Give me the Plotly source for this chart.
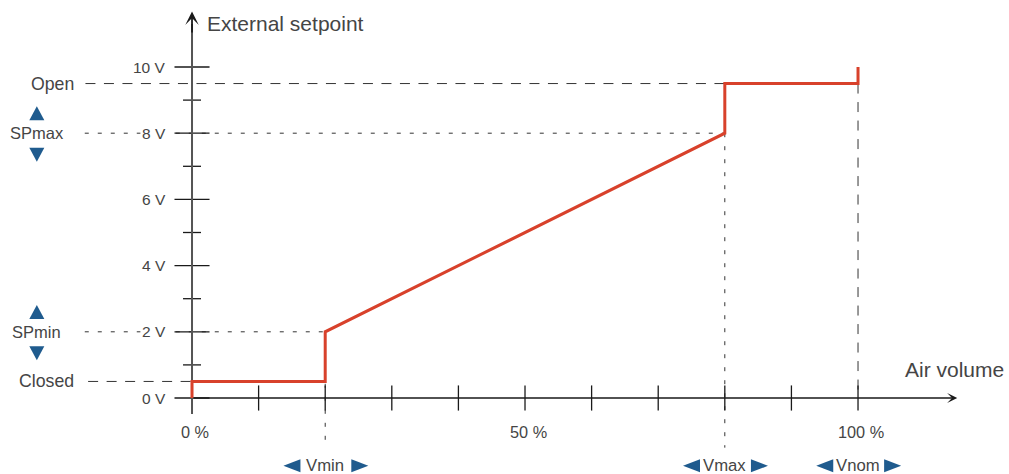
import plotly.graph_objects as go

# ---- data ----
curve_x = [0, 0, 20, 20, 80, 80, 100, 100]          # air volume, %
curve_y = [0, 0.5, 0.5, 2, 8, 9.5, 9.5, 10]         # external setpoint, V
y_major = [0, 2, 4, 6, 8, 10]
y_major_labels = ["0 V", "2 V", "4 V", "6 V", "8 V", "10 V"]
y_minor = [1, 3, 5, 7, 9]
x_ticks = [10, 20, 30, 40, 50, 60, 70, 80, 90, 100]
x_tick_labels = {0: "0 %", 50: "50 %", 100: "100 %"}
closed_v, spmin_v, spmax_v, open_v = 0.5, 2, 8, 9.5
vmin_p, vmax_p, vnom_p = 20, 80, 100

RED = "#d8412b"
BLUE = "#1f5b8e"
TXT = "#454545"
AX = "#1a1a1a"
YAX = "#555555"
DASH_S = "4px,9px"
DASH_L = "10px,8.5px"
FONT = "Liberation Sans"

X_RANGE = [-28.83, 122.67]
Y_RANGE = [-2.296, 12.024]
W, H = 1009, 474
PX_X = W / (X_RANGE[1] - X_RANGE[0])   # pixels per % unit
PX_Y = H / (Y_RANGE[1] - Y_RANGE[0])   # pixels per V unit

fig = go.Figure()
shapes = []
ann = []

def line(x0, y0, x1, y1, color=AX, width=1.3, dash=None, layer="below"):
    d = dict(type="line", xref="x", yref="y", x0=x0, y0=y0, x1=x1, y1=y1,
             line=dict(color=color, width=width), layer=layer)
    if dash:
        d["line"]["dash"] = dash
    shapes.append(d)

def triangle(cx, cy, direction, wpx, hpx):
    # wpx, hpx: size along / across the pointing direction, in pixels
    if direction in ("up", "down"):
        hw = wpx / 2 / PX_X
        hh = hpx / 2 / PX_Y
        s = 1 if direction == "up" else -1
        pts = [(cx - hw, cy - s * hh), (cx + hw, cy - s * hh), (cx, cy + s * hh)]
    else:
        hw = wpx / 2 / PX_X
        hh = hpx / 2 / PX_Y
        s = 1 if direction == "right" else -1
        pts = [(cx - s * hw, cy + hh), (cx - s * hw, cy - hh), (cx + s * hw, cy)]
    path = "M" + " L".join(f"{x},{y}" for x, y in pts) + " Z"
    shapes.append(dict(type="path", xref="x", yref="y", path=path,
                       fillcolor=BLUE, line=dict(width=0), layer="above"))

# guide lines
line(-16, open_v, vmax_p, open_v, "#333", 1, DASH_L)
line(-16.1, spmax_v, vmax_p, spmax_v, "#333", 1, DASH_S)
line(-16.1, spmin_v, vmin_p, spmin_v, "#333", 1, DASH_S)
line(-15.6, closed_v, 0, closed_v, "#333", 1, DASH_L)
line(vmin_p, spmin_v, vmin_p, -1.5, "#333", 1, DASH_S)
line(vmax_p, spmax_v, vmax_p, -1.5, "#333", 1, DASH_S)
line(vnom_p, open_v, vnom_p, 0, "#333", 1, DASH_L)

# ticks
for v in y_major:
    line(-2.63, v, 2.63, v)
for v in y_minor:
    line(-1.35, v, 1.35, v)
for p in x_ticks:
    line(p, -0.38, p, 0.38)

# axes with arrows
line(0, -0.48, 0, 11.3, YAX, 2)
ann.append(dict(x=0, y=11.68, ax=0, ay=11.0, xref="x", yref="y", axref="x", ayref="y",
                showarrow=True, arrowhead=3, arrowsize=1.25, arrowwidth=1.8,
                arrowcolor=AX, text=""))
ann.append(dict(x=114.9, y=0, ax=0, ay=0, xref="x", yref="y", axref="x", ayref="y",
                showarrow=True, arrowhead=3, arrowsize=1.3, arrowwidth=1.3,
                arrowcolor=AX, text=""))

# curve
fig.add_trace(go.Scatter(x=curve_x, y=curve_y, mode="lines",
                         line=dict(color=RED, width=3), hoverinfo="skip",
                         showlegend=False))

def text(x, y, s, size=15, xanchor="center", yanchor="middle", bg=None, xshift=0):
    d = dict(x=x, y=y, xref="x", yref="y", text=s, showarrow=False,
             font=dict(family=FONT, size=size, color=TXT),
             xanchor=xanchor, yanchor=yanchor, xshift=xshift)
    if bg:
        d["bgcolor"] = bg
    ann.append(d)

for v, s in zip(y_major, y_major_labels):
    text(-3.6, v, s, 15.5, xanchor="right", bg="white")
for p, s in x_tick_labels.items():
    text(p, -1.03, s, 16.3, xshift=3)

text(-17.4, open_v, "Open", 17.7, xanchor="right")
text(-17.4, closed_v, "Closed", 17.7, xanchor="right")
text(-23.3, spmax_v, "SPmax", 16.5)
text(-23.3, spmin_v, "SPmin", 16.5)
text(1.9, 11.3, "External setpoint", 21, xanchor="left")
text(106.7, 0.85, "Air volume", 21, xanchor="left")

bottom_y = -2.05
for p, s in [(vmin_p, "Vmin"), (vmax_p, "Vmax"), (vnom_p, "Vnom")]:
    text(p, bottom_y, s, 16.7)
    triangle(p - 5.0, bottom_y, "left", 17, 13)
    triangle(p + 5.2, bottom_y, "right", 17, 13)

# vertical blue triangles
for v in (spmax_v, spmin_v):
    triangle(-23.3, v + 0.6, "up", 15, 14)
    triangle(-23.3, v - 0.65, "down", 15, 14)

fig.update_layout(
    width=W, height=H,
    margin=dict(l=0, r=0, t=0, b=0, pad=0),
    paper_bgcolor="white", plot_bgcolor="white",
    xaxis=dict(range=X_RANGE, visible=False, fixedrange=True),
    yaxis=dict(range=Y_RANGE, visible=False, fixedrange=True),
    shapes=shapes, annotations=ann, showlegend=False,
)

fig.write_html("out.html", config={"displayModeBar": False},
               post_script="document.body.style.margin='0';")
